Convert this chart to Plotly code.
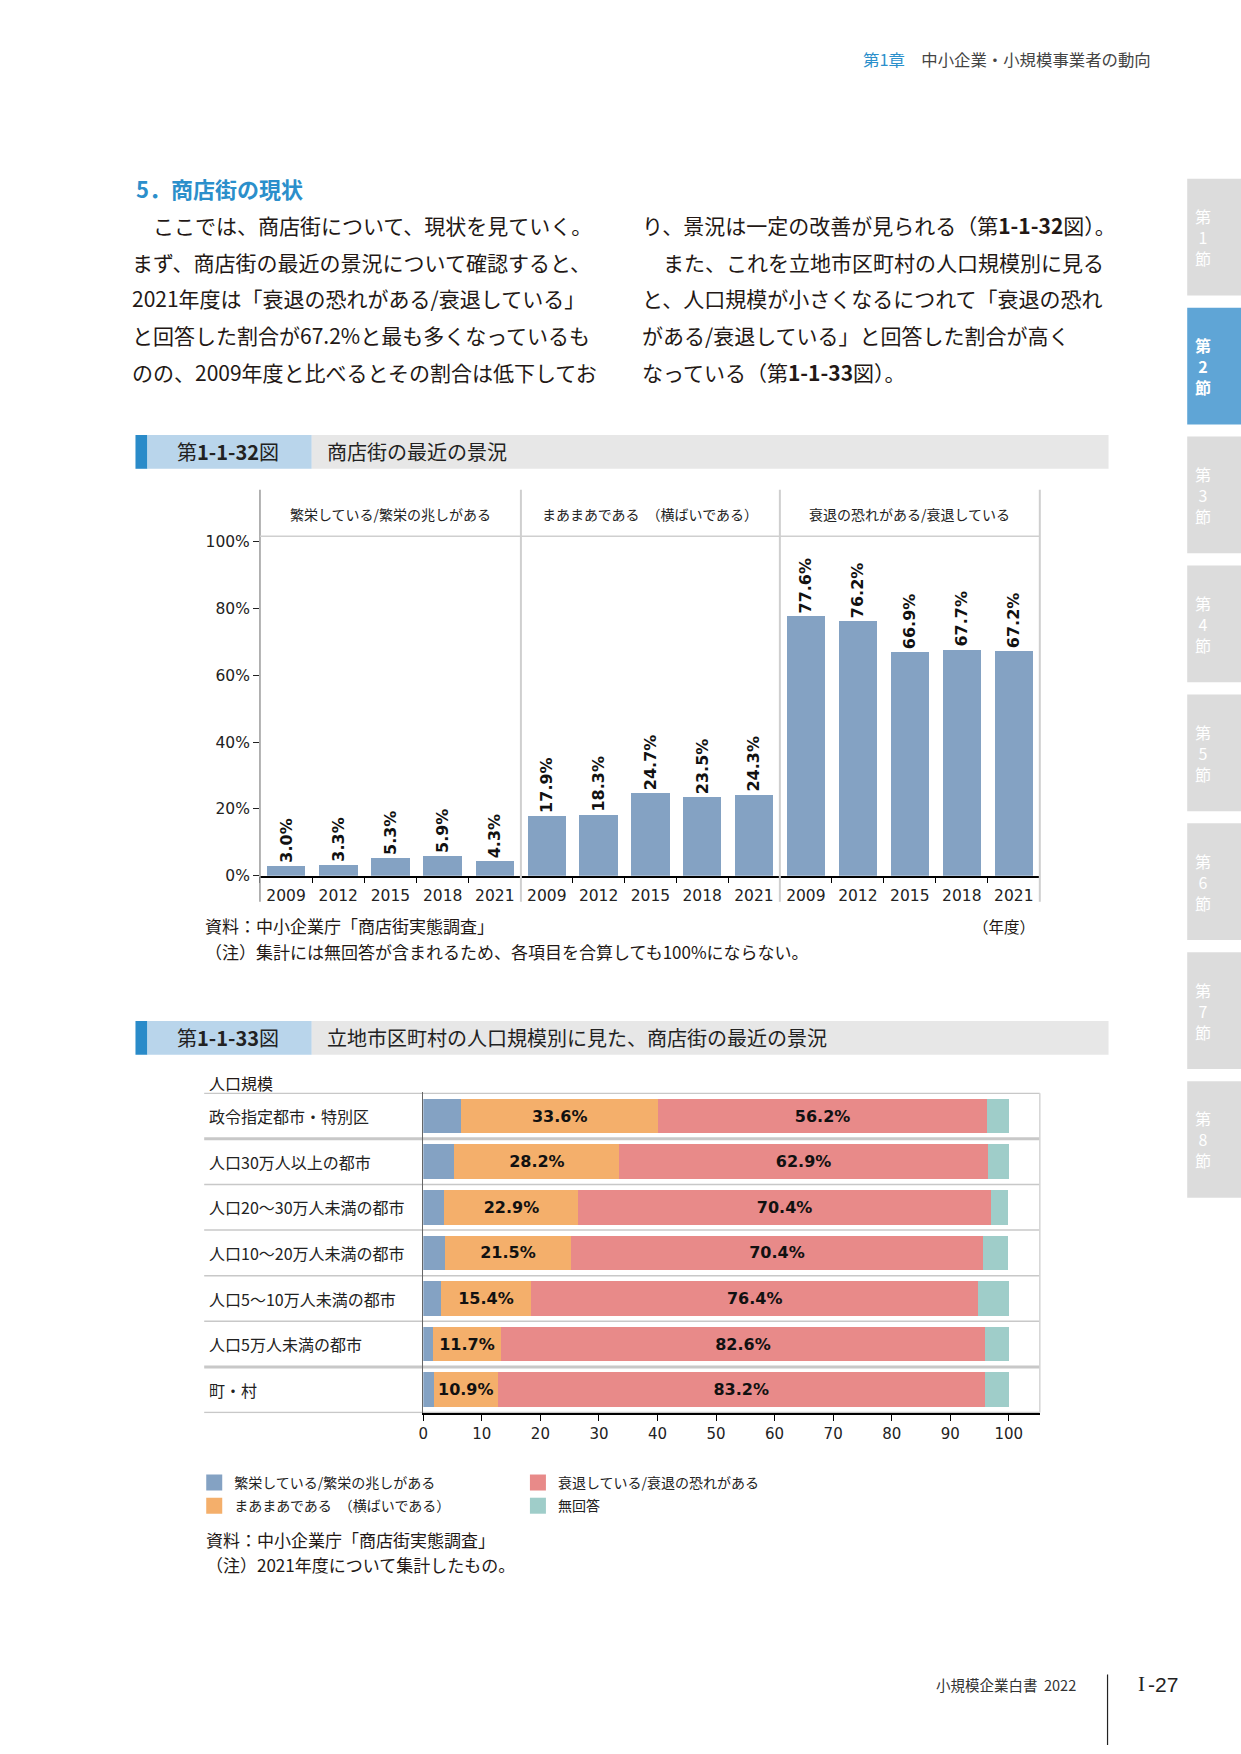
import plotly.graph_objects as go

W, H = 1241, 1754


def px(x):
    return x / W


def py(y):
    return 1 - y / H


# ---------------- data ----------------
groups = ["繁栄している/繁栄の兆しがある", "まあまあである　（横ばいである）", "衰退の恐れがある/衰退している"]
years = ["2009", "2012", "2015", "2018", "2021"]
prosper = [3.0, 3.3, 5.3, 5.9, 4.3]
flat = [17.9, 18.3, 24.7, 23.5, 24.3]
decline = [77.6, 76.2, 66.9, 67.7, 67.2]
y_ticks = [0, 20, 40, 60, 80, 100]
y_ticktext = ["0%", "20%", "40%", "60%", "80%", "100%"]

sizes = ["政令指定都市・特別区", "人口30万人以上の都市", "人口20～30万人未満の都市",
         "人口10～20万人未満の都市", "人口5～10万人未満の都市", "人口5万人未満の都市", "町・村"]
s_prosper = [6.5, 5.3, 3.6, 3.7, 3.0, 1.6, 1.8]
s_flat = [33.6, 28.2, 22.9, 21.5, 15.4, 11.7, 10.9]
s_decline = [56.2, 62.9, 70.4, 70.4, 76.4, 82.6, 83.2]
s_none = [3.7, 3.6, 3.0, 4.3, 5.2, 4.1, 4.1]
legend_names = ["繁栄している/繁栄の兆しがある", "まあまあである　（横ばいである）",
                "衰退している/衰退の恐れがある", "無回答"]
x2_ticks = [0, 10, 20, 30, 40, 50, 60, 70, 80, 90, 100]

left_lines = ["　ここでは、商店街について、現状を見ていく。",
              "まず、商店街の最近の景況について確認すると、",
              "2021年度は「衰退の恐れがある/衰退している」",
              "と回答した割合が67.2%と最も多くなっているも",
              "のの、2009年度と比べるとその割合は低下してお"]
right_lines = ["り、景況は一定の改善が見られる（第<b>1-1-32</b>図）。",
               "　また、これを立地市区町村の人口規模別に見る",
               "と、人口規模が小さくなるにつれて「衰退の恐れ",
               "がある/衰退している」と回答した割合が高く",
               "なっている（第<b>1-1-33</b>図）。"]
tab_labels = ["1", "2", "3", "4", "5", "6", "7", "8"]
active_tab = "2"

# ---------------- style ----------------
JP = "Noto Sans CJK JP"
LAT = "DejaVu Sans"
BLUE = "#84A2C3"
ORANGE = "#F4AF6B"
RED = "#E88A89"
TEAL = "#9FCDC9"
TXT = "#231815"
ACCENT = "#2B8FCB"

fig = go.Figure()

# ---------------- figure 1-1-32 ----------------
for vals, xa in zip([prosper, flat, decline], ["x", "x2", "x3"]):
    fig.add_trace(go.Bar(
        x=years, y=vals, xaxis=xa, yaxis="y", width=0.74,
        marker=dict(color=BLUE, line=dict(width=0)),
        texttemplate="%{y:.1f}%", textposition="outside", textangle=-90,
        textfont=dict(family=LAT, size=16, color="#111", weight="bold"),
        cliponaxis=False, constraintext="none", showlegend=False, hoverinfo="skip"))

# ---------------- figure 1-1-33 ----------------
series2 = [(legend_names[0], s_prosper, BLUE, False, "legend"),
           (legend_names[1], s_flat, ORANGE, True, "legend"),
           (legend_names[2], s_decline, RED, True, "legend2"),
           (legend_names[3], s_none, TEAL, False, "legend2")]
for name, vals, col, lab, lg in series2:
    fig.add_trace(go.Bar(
        y=sizes, x=vals, orientation="h", xaxis="x4", yaxis="y2", name=name,
        marker=dict(color=col, line=dict(width=0)),
        texttemplate="%{x:.1f}%" if lab else "", textposition="inside" if lab else "none",
        insidetextanchor="middle", constraintext="none",
        textfont=dict(family=LAT, size=16, color="#111", weight="bold"),
        showlegend=False, legendgroup=name, hoverinfo="skip"))
# legend entries (square keys, same colours as the stacked series)
for name, vals, col, lab, lg in series2:
    fig.add_trace(go.Scatter(
        x=[None], y=[None], mode="markers", xaxis="x4", yaxis="y2", name=name,
        marker=dict(symbol="square", size=16, color=col, line=dict(width=0)),
        legend=lg, legendgroup=name, hoverinfo="skip"))

xcommon = dict(type="category", showline=True, linecolor="#000", linewidth=1.5,
               ticks="outside", tickson="boundaries", ticklen=6, tickcolor="#000", tickwidth=1.2,
               ticklabelstandoff=5,
               tickfont=dict(family=LAT, size=15.5, color="#222"), showgrid=False, zeroline=False,
               fixedrange=True)

fig.update_layout(
    width=W, height=H, autosize=False,
    margin=dict(l=0, r=0, t=0, b=0, pad=0),
    paper_bgcolor="white", plot_bgcolor="white",
    font=dict(family=JP, color=TXT),
    barmode="stack", bargap=0.24,
    xaxis=dict(domain=[px(256), px(518)], anchor="y", **xcommon),
    xaxis2=dict(domain=[px(518), px(778)], anchor="y", **xcommon),
    xaxis3=dict(domain=[px(778), px(1039)], anchor="y", **xcommon),
    yaxis=dict(domain=[py(878.7), py(537)], range=[0, 101.6], anchor="x",
               tickmode="array", tickvals=y_ticks, ticktext=y_ticktext,
               ticks="outside", ticklen=6, tickcolor="#222",
               tickfont=dict(family=LAT, size=15.5, color="#222"),
               showline=False, showgrid=False, zeroline=False, fixedrange=True),
    xaxis4=dict(domain=[px(420), px(1039)], range=[0, 105.3], anchor="y2",
                tickvals=x2_ticks, ticks="outside", ticklen=6, tickcolor="#000",
                showline=True, linecolor="#000", linewidth=1.5,
                tickfont=dict(family=LAT, size=15, color="#222"),
                showgrid=False, zeroline=False, fixedrange=True),
    yaxis2=dict(domain=[py(1420), py(1097)], type="category", autorange="reversed", anchor="x4",
                showline=True, linecolor="#666", linewidth=1.2, showticklabels=False, ticks="",
                showgrid=False, zeroline=False, fixedrange=True),
    legend=dict(x=px(190), y=py(1474), xanchor="left", yanchor="top", orientation="v",
                traceorder="grouped", tracegroupgap=2, bgcolor="rgba(0,0,0,0)",
                itemclick=False, itemdoubleclick=False,
                font=dict(family=JP, size=14, color="#222")),
    legend2=dict(x=px(515), y=py(1474), xanchor="left", yanchor="top", orientation="v",
                 traceorder="grouped", tracegroupgap=2, bgcolor="rgba(0,0,0,0)",
                 itemclick=False, itemdoubleclick=False,
                 font=dict(family=JP, size=14, color="#222")),
)

shapes = []
ann = []


def rect(x0, y0, x1, y1, color):
    shapes.append(dict(type="rect", xref="paper", yref="paper", x0=px(x0), x1=px(x1),
                       y0=py(y1), y1=py(y0), fillcolor=color, line=dict(width=0), layer="below"))


def hline(x0, x1, y, color, w):
    shapes.append(dict(type="line", xref="paper", yref="paper", x0=px(x0), x1=px(x1),
                       y0=py(y), y1=py(y), line=dict(color=color, width=w)))


def vline(x, y0, y1, color, w):
    shapes.append(dict(type="line", xref="paper", yref="paper", x0=px(x), x1=px(x),
                       y0=py(y0), y1=py(y1), line=dict(color=color, width=w)))


def text(x, y, t, size, color=TXT, anchor="left", family=JP, weight="normal", ya="middle"):
    ann.append(dict(xref="paper", yref="paper", x=px(x), y=py(y), text=t, showarrow=False,
                    xanchor=anchor, yanchor=ya, align=anchor if anchor != "center" else "center",
                    font=dict(family=family, size=size, color=color, weight=weight)))


# page header
text(1153, 56, f'<span style="color:{ACCENT}">第1章</span>　中小企業・小規模事業者の動向', 16.4,
     color="#444", anchor="right")

# section title and body
text(130, 186, "5．商店街の現状", 22, color=ACCENT, weight="bold")
for i, t in enumerate(left_lines):
    text(126, 223.5 + 36.9 * i, t, 21)
for i, t in enumerate(right_lines):
    text(638, 223.5 + 36.9 * i, t, 21)

# figure header bars
for (y0, y1, num, title) in [(435, 469, "第<b>1-1-32</b>図", "商店街の最近の景況"),
                             (1025, 1059, "第<b>1-1-33</b>図", "立地市区町村の人口規模別に見た、商店街の最近の景況")]:
    rect(131, y0, 143, y1, "#2A8BC9")
    rect(143, y0, 308, y1, "#B9D5EB")
    rect(308, y0, 1108, y1, "#E7E7E7")
    text(224, (y0 + y1) / 2, num, 20, color="#222", anchor="center")
    text(321, (y0 + y1) / 2, title, 20, color="#222")

# figure 1 frame
vline(256, 490, 905, "#9A9A9A", 1.5)
for xv in (518, 778, 1039):
    vline(xv, 490, 905, "#CFCFCF", 2)
hline(256, 1039, 537, "#CFCFCF", 1.5)
for g, xa in zip(groups, ["x", "x2", "x3"]):
    ann.append(dict(xref=f"{xa} domain", yref="paper", x=0.5, y=py(515), text=g, showarrow=False,
                    xanchor="center", yanchor="middle", font=dict(family=JP, size=14, color="#222")))
text(199, 929, "資料：中小企業庁「商店街実態調査」", 17)
text(199, 955, "（注）集計には無回答が含まれるため、各項目を合算しても100%にならない。", 17)
text(1036, 929, "（年度）", 15.5, anchor="right")

# figure 2 frame
text(203, 1087, "人口規模", 16)
for k in range(len(sizes) + 1):
    yv = k - 0.5
    thick = k in (1, len(sizes) - 1)
    shapes.append(dict(type="line", xref="paper", yref="y2", x0=px(200), x1=px(1039), y0=yv, y1=yv,
                       line=dict(color="#C8C8C8", width=3 if thick else 1.5), layer="below"))
shapes.append(dict(type="line", xref="paper", yref="y2", x0=px(1039), x1=px(1039), y0=-0.5,
                   y1=len(sizes) - 0.5, line=dict(color="#D5D5D5", width=1.5), layer="below"))
for s in sizes:
    ann.append(dict(xref="paper", yref="y2", x=px(203), y=s, text=s, showarrow=False,
                    xanchor="left", yanchor="middle", font=dict(family=JP, size=16, color="#222")))
text(200, 1547, "資料：中小企業庁「商店街実態調査」", 17)
text(200, 1572, "（注）2021年度について集計したもの。", 17)

# side tabs
for i, lab in enumerate(tab_labels):
    y0 = 177 + 129.8 * i
    active = lab == active_tab
    rect(1187, y0, 1241, y0 + 117.5, "#5FA5D6" if active else "#DCDCDC")
    text(1203, y0 + 58.7, f"第<br>{lab}<br>節", 16, color="white", anchor="center",
         weight="bold" if active else "normal")

# footer
text(933, 1693, "小規模企業白書  2022", 14.5, color="#333")
vline(1107, 1683, 1754, "#222", 1.2)
text(1136, 1693, "I", 21, color="#222", family="Liberation Serif")
text(1146, 1693, "-27", 21, color="#222", family="Liberation Sans")

fig.update_layout(shapes=shapes, annotations=ann)
fig.write_html("out.html")
